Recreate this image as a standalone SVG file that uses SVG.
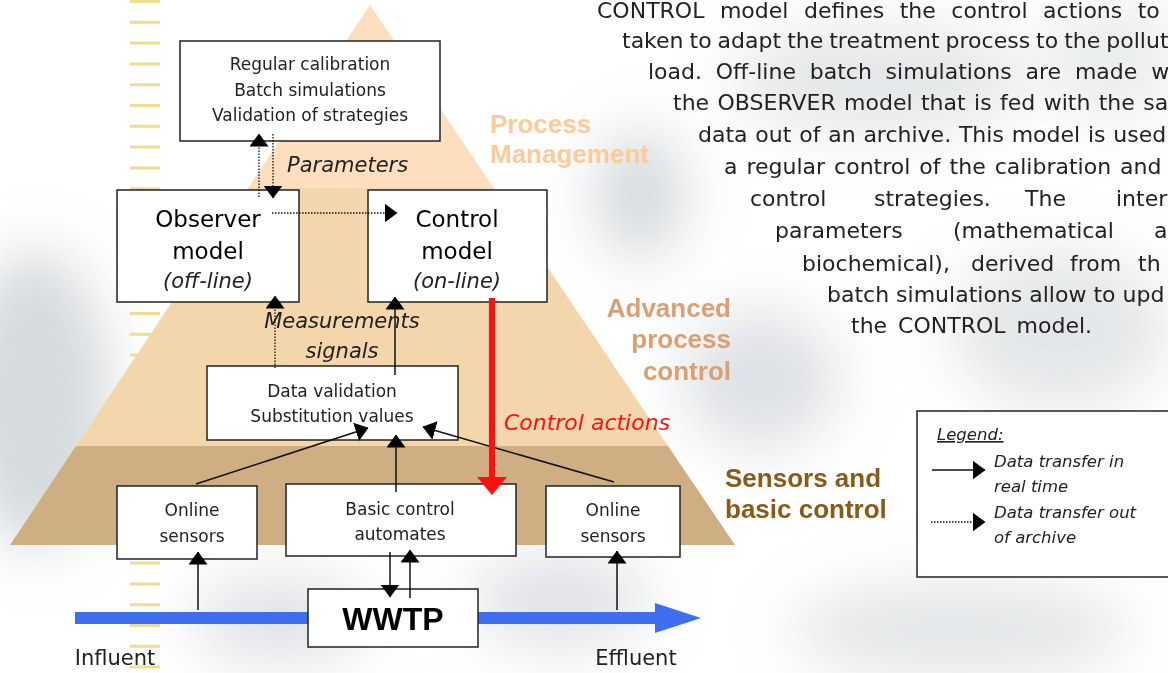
<svg xmlns="http://www.w3.org/2000/svg" width="1168" height="673" viewBox="0 0 1168 673">
<style>
.box{fill:#fff;stroke:#222;stroke-width:1.5}
.t{font-family:"DejaVu Sans",sans-serif;fill:#222;text-anchor:middle}
.s17{font-size:17px}
.big{font-size:23px;fill:#000}
.it{font-style:italic;font-size:21px}
.para{font-family:"DejaVu Sans",sans-serif;font-size:22px;fill:#222}
.lbl{font-family:"Liberation Sans",Arial,sans-serif;font-weight:bold;font-size:26px}
.solid{stroke:#111;stroke-width:1.5;fill:none}
.dot{stroke:#111;stroke-width:1.3;stroke-dasharray:1.5 1.5;fill:none}
.leg{font-family:"DejaVu Sans",sans-serif;font-style:italic;font-size:16.5px;fill:#222}
</style>
<defs>
<filter id="blur" x="-60%" y="-60%" width="220%" height="220%"><feGaussianBlur stdDeviation="28"/></filter>
<marker id="ah" viewBox="0 0 13 19" refX="12.5" refY="9.5" markerWidth="13" markerHeight="19" markerUnits="userSpaceOnUse" orient="auto"><path d="M0,0 L13,9.5 L0,19 z" fill="#000"/></marker>
<marker id="ahRed" viewBox="0 0 18 30" refX="0" refY="15" markerWidth="18" markerHeight="30" markerUnits="userSpaceOnUse" orient="auto"><path d="M0,0 L18,15 L0,30 z" fill="#FF1010"/></marker>
</defs>
<rect width="1168" height="673" fill="#fff"/>
<g id="background" filter="url(#blur)" fill="#C4CACF">
<ellipse cx="35" cy="400" rx="75" ry="150" opacity="0.7"/>
<ellipse cx="640" cy="195" rx="45" ry="65" opacity="0.7"/>
<ellipse cx="880" cy="80" rx="150" ry="55" opacity="0.45"/>
<ellipse cx="760" cy="380" rx="80" ry="70" opacity="0.55"/>
<ellipse cx="1060" cy="330" rx="110" ry="80" opacity="0.45"/>
<ellipse cx="280" cy="620" rx="90" ry="45" opacity="0.5"/>
<ellipse cx="560" cy="600" rx="90" ry="50" opacity="0.5"/>
<ellipse cx="960" cy="630" rx="170" ry="50" opacity="0.45"/>
<ellipse cx="1110" cy="60" rx="70" ry="60" opacity="0.35"/>
</g>
<line x1="145" y1="0" x2="145" y2="673" stroke="#EEDD93" stroke-width="30" stroke-dasharray="3 17.8"/>
<g id="pyramid">
<polygon points="370,5 494,188 248,188" fill="#FDDFBF"/>
<polygon points="248,188 494,188 668,446 76,446" fill="#F3D6AB"/>
<polygon points="76,446 668,446 735,545 10,545" fill="#CEAE82"/>
</g>
<g id="layer-labels">
<text class="lbl" x="490" y="133" fill="#FFCA98">Process</text>
<text class="lbl" x="490" y="163" fill="#FFCA98">Management</text>
<text class="lbl" x="731" y="317" fill="#D9A073" text-anchor="end">Advanced</text>
<text class="lbl" x="731" y="348" fill="#D9A073" text-anchor="end">process</text>
<text class="lbl" x="731" y="380" fill="#D9A073" text-anchor="end">control</text>
<text class="lbl" x="725" y="487" fill="#8A5A18">Sensors and</text>
<text class="lbl" x="725" y="518" fill="#8A5A18">basic control</text>
</g>
<g id="paragraph" class="para">
<text x="597" y="18" word-spacing="8.5">CONTROL model defines the control actions to</text>
<text x="622" y="48" word-spacing="-1">taken to adapt the treatment process to the pollut</text>
<text x="648" y="79" word-spacing="6.8">load. Off-line batch simulations are made w</text>
<text x="673" y="110" word-spacing="1.4">the OBSERVER model that is fed with the sa</text>
<text x="698" y="142" word-spacing="0.8">data out of an archive. This model is used</text>
<text x="724" y="174" word-spacing="2">a regular control of the calibration and</text>
<text y="206"><tspan x="750">control</tspan><tspan x="874">strategies.</tspan><tspan x="1025">The</tspan><tspan x="1116">inter</tspan></text>
<text y="238"><tspan x="775">parameters</tspan><tspan x="953">(mathematical</tspan><tspan x="1154">a</tspan></text>
<text y="271"><tspan x="802">biochemical),</tspan><tspan x="971">derived</tspan><tspan x="1070">from</tspan><tspan x="1138">th</tspan></text>
<text x="827" y="302">batch simulations allow to upd</text>
<text x="851" y="333" word-spacing="4">the CONTROL model.</text>
</g>
<g id="node-calibration">
<rect class="box" x="180" y="41" width="260" height="100"/>
<text class="t s17" x="310" y="70">Regular calibration</text>
<text class="t s17" x="310" y="96">Batch simulations</text>
<text class="t s17" x="310" y="121">Validation of strategies</text>
</g>
<g id="node-observer">
<rect class="box" x="117" y="190" width="182" height="112"/>
<text class="t big" x="208" y="227">Observer</text>
<text class="t big" x="208" y="259">model</text>
<text class="t it" x="208" y="288">(off-line)</text>
</g>
<g id="node-control">
<rect class="box" x="368" y="190" width="179" height="112"/>
<text class="t big" x="457" y="227">Control</text>
<text class="t big" x="457" y="259">model</text>
<text class="t it" x="457" y="288">(on-line)</text>
</g>
<g id="node-validation">
<rect class="box" x="207" y="366" width="251" height="74"/>
<text class="t s17" x="332" y="397">Data validation</text>
<text class="t s17" x="332" y="422">Substitution values</text>
</g>
<g id="node-sensors-left">
<rect class="box" x="117" y="486" width="140" height="73"/>
<text class="t s17" x="192" y="516">Online</text>
<text class="t s17" x="192" y="542">sensors</text>
</g>
<g id="node-automates">
<rect class="box" x="286" y="484" width="230" height="72"/>
<text class="t s17" x="400" y="515">Basic control</text>
<text class="t s17" x="400" y="540">automates</text>
</g>
<g id="node-sensors-right">
<rect class="box" x="546" y="486" width="134" height="71"/>
<text class="t s17" x="613" y="516">Online</text>
<text class="t s17" x="613" y="542">sensors</text>
</g>
<g id="flow">
<line x1="75" y1="618" x2="658" y2="618" stroke="#3E6EF2" stroke-width="12"/>
<polygon points="655,603 701,618 655,633" fill="#3E6EF2"/>
<text class="t" x="115" y="665" style="font-size:21px">Influent</text>
<text class="t" x="636" y="665" style="font-size:21px">Effluent</text>
</g>
<g id="node-wwtp">
<rect class="box" x="308" y="589" width="170" height="58"/>
<text x="393" y="630" text-anchor="middle" font-family="Liberation Sans, Arial, sans-serif" font-weight="bold" font-size="32" fill="#000">WWTP</text>
</g>
<g id="connectors">
<line class="dot" x1="259" y1="197" x2="259" y2="134" marker-end="url(#ah)"/>
<line class="dot" x1="273" y1="134" x2="273" y2="198" marker-end="url(#ah)"/>
<line class="dot" x1="272" y1="213" x2="397" y2="213" marker-end="url(#ah)"/>
<line class="dot" x1="275" y1="368" x2="275" y2="296" marker-end="url(#ah)"/>
<line class="solid" x1="395" y1="375" x2="395" y2="297" marker-end="url(#ah)"/>
<line class="solid" x1="196" y1="484" x2="368" y2="428" marker-end="url(#ah)"/>
<line class="solid" x1="396" y1="492" x2="396" y2="435" marker-end="url(#ah)"/>
<line class="solid" x1="614" y1="482" x2="423" y2="427" marker-end="url(#ah)"/>
<line class="solid" x1="198" y1="610" x2="198" y2="552" marker-end="url(#ah)"/>
<line class="solid" x1="617" y1="610" x2="617" y2="551" marker-end="url(#ah)"/>
<line class="solid" x1="390" y1="552" x2="390" y2="597" marker-end="url(#ah)"/>
<line class="solid" x1="410" y1="598" x2="410" y2="550" marker-end="url(#ah)"/>
<line x1="492" y1="298" x2="492" y2="477" stroke="#FF1010" stroke-width="6" marker-end="url(#ahRed)"/>
<text class="t it" x="287" y="172" style="text-anchor:start">Parameters</text>
<text class="t it" x="342" y="328">Measurements</text>
<text class="t it" x="342" y="358">signals</text>
<text class="t it" x="587" y="430" style="fill:#FF1010;font-size:22px">Control actions</text>
</g>
<g id="legend">
<rect x="917" y="411" width="260" height="166" fill="#fff" stroke="#222" stroke-width="1.5"/>
<text class="leg" x="937" y="440" text-decoration="underline">Legend:</text>
<line class="solid" x1="932" y1="470" x2="985" y2="470" marker-end="url(#ah)"/>
<text class="leg" x="994" y="467">Data transfer in</text>
<text class="leg" x="994" y="492">real time</text>
<line class="dot" x1="931" y1="522" x2="985" y2="522" marker-end="url(#ah)"/>
<text class="leg" x="994" y="518">Data transfer out</text>
<text class="leg" x="994" y="543">of archive</text>
</g>
</svg>
